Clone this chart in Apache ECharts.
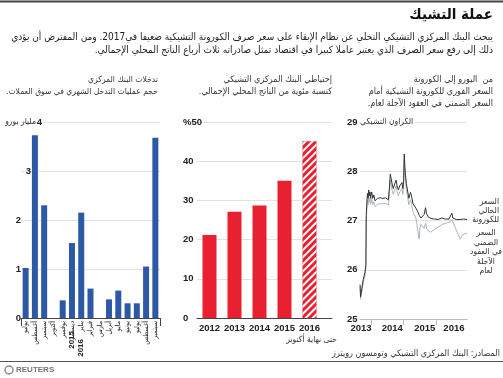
<!DOCTYPE html>
<html><head><meta charset="utf-8">
<script src="https://cdn.jsdelivr.net/npm/echarts@6/dist/echarts.min.js"></script>
<style>html,body{margin:0;padding:0;background:#fff}#c{width:503px;height:378px}</style>
</head><body><div id="c" dir="rtl"></div>
<script>
// ---- data ----
const months = ['يوليو','أغسطس','سبتمبر','أكتوبر','نوفمبر','ديسمبر','يناير','فبراير','مارس','أبريل','مايو','يونيو','يوليو','أغسطس','سبتمبر'];
const interventions = [1.02,3.73,2.30,0,0.36,1.53,2.15,0.60,0,0.38,0.56,0.30,0.30,1.05,3.68];
const reserveYears = [2012,2013,2014,2015,2016];
const reserves = [21.2,27.1,28.7,35.0,45.1];
const lineYearLabels = ['2013-09-10','2014-08-28','2015-08-28','2016-07-20'];
const lineYearTicks = ['2014-01-01','2015-01-01','2016-01-01'];
const spotRate = [
['2013-08-31',25.70],['2013-09-05',25.45],['2013-09-20',25.62],['2013-10-05',25.80],['2013-10-25',25.95],['2013-11-04',26.10],
['2013-11-08',27.10],['2013-11-15',27.35],['2013-11-22',27.55],['2013-11-29',27.45],['2013-12-06',27.62],['2013-12-13',27.50],
['2013-12-20',27.58],['2013-12-27',27.45],['2014-01-08',27.58],['2014-01-20',27.45],['2014-02-01',27.52],['2014-02-15',27.40],
['2014-03-01',27.38],['2014-03-15',27.45],['2014-04-01',27.42],['2014-04-15',27.46],['2014-05-01',27.43],['2014-05-15',27.45],
['2014-06-01',27.42],['2014-06-15',27.46],['2014-07-01',27.44],['2014-07-15',27.42],['2014-07-28',27.70],['2014-08-05',27.94],
['2014-08-15',27.85],['2014-08-28',27.72],['2014-09-08',27.65],['2014-09-25',27.75],['2014-10-10',27.82],['2014-10-20',27.70],
['2014-11-05',27.62],['2014-11-18',27.70],['2014-12-05',27.68],['2014-12-15',27.77],['2014-12-24',27.65],['2015-01-02',27.80],
['2015-01-09',28.35],['2015-01-16',28.10],['2015-01-23',27.92],['2015-02-02',27.75],['2015-02-12',27.78],['2015-03-02',27.45],
['2015-03-20',27.57],['2015-04-01',27.50],['2015-04-15',27.35],['2015-05-01',27.38],['2015-05-20',27.25],['2015-06-10',27.18],
['2015-06-28',27.10],['2015-07-15',27.05],['2015-08-05',27.08],['2015-08-20',27.12],['2015-09-05',27.26],['2015-09-15',27.15],
['2015-10-01',27.08],['2015-10-20',27.05],['2015-11-05',27.04],['2015-11-25',27.03],['2015-12-15',27.03],['2016-01-05',27.04],
['2016-01-25',27.02],['2016-02-15',27.04],['2016-03-05',27.05],['2016-03-25',27.04],['2016-04-15',27.03],['2016-05-05',27.04],
['2016-05-25',27.03],['2016-06-15',27.06],['2016-06-27',27.15],['2016-07-08',27.05],['2016-07-25',27.03],['2016-08-15',27.02],
['2016-09-05',27.03],['2016-09-25',27.02],['2016-10-15',27.02],['2016-11-05',27.03],['2016-11-25',27.02],['2016-12-14',27.02]
];
const forwardRate = [
['2013-08-31',25.65],['2013-09-05',25.40],['2013-09-20',25.57],['2013-10-05',25.74],['2013-10-25',25.88],['2013-11-04',26.02],
['2013-11-08',27.00],['2013-11-15',27.25],['2013-11-22',27.42],['2013-11-29',27.32],['2013-12-06',27.48],['2013-12-13',27.37],
['2013-12-20',27.45],['2013-12-27',27.33],['2014-01-08',27.45],['2014-01-20',27.32],['2014-02-01',27.38],['2014-02-15',27.28],
['2014-03-01',27.27],['2014-03-15',27.33],['2014-04-01',27.30],['2014-04-15',27.34],['2014-05-01',27.31],['2014-05-15',27.34],
['2014-06-01',27.31],['2014-06-15',27.35],['2014-07-01',27.33],['2014-07-15',27.31],['2014-07-28',27.58],['2014-08-05',27.82],
['2014-08-15',27.73],['2014-08-28',27.60],['2014-09-08',27.53],['2014-09-25',27.63],['2014-10-10',27.70],['2014-10-20',27.58],
['2014-11-05',27.50],['2014-11-18',27.58],['2014-12-05',27.56],['2014-12-15',27.65],['2014-12-24',27.53],['2015-01-02',27.68],
['2015-01-09',28.22],['2015-01-16',27.98],['2015-01-23',27.80],['2015-02-02',27.63],['2015-02-12',27.65],['2015-03-02',27.32],
['2015-03-20',27.42],['2015-04-01',27.35],['2015-04-15',27.18],['2015-05-01',27.20],['2015-05-20',27.05],['2015-06-10',26.80],
['2015-06-25',26.62],['2015-07-05',26.85],['2015-07-15',26.92],['2015-08-05',26.88],['2015-08-20',26.84],['2015-09-05',26.95],
['2015-09-20',26.82],['2015-10-10',26.78],['2015-10-30',26.76],['2015-11-20',26.78],['2015-12-15',26.82],['2016-01-10',26.85],
['2016-02-05',26.88],['2016-03-10',26.92],['2016-04-10',26.94],['2016-05-10',26.96],['2016-06-10',26.97],['2016-06-27',27.02],
['2016-07-10',26.99],['2016-08-05',26.85],['2016-08-28',26.75],['2016-10-01',26.62],['2016-10-20',26.70],['2016-11-10',26.74],
['2016-12-14',26.75]
];
// ---- text ----
const titleText = 'عملة التشيك';
const subtitleText = 'يبحث البنك المركزي التشيكي التخلي عن نظام الإبقاء على سعر صرف الكورونة التشيكية ضعيفا في2017. ومن المفترض أن يؤدي\nذلك إلى رفع سعر الصرف الذي يعتبر عاملا كبيرا في اقتصاد تمثل صادراته ثلاث أرباع الناتج المحلي الإجمالي.';
const headLeft = 'تدخلات البنك المركزي\nحجم عمليات التدخل الشهري في سوق العملات.';
const headMid = 'إحتياطي البنك المركزي التشيكي\nكنسبة مئوية من الناتج المحلي الإجمالي.';
const headRight = 'من  اليورو إلى الكورونة\nالسعر الفوري للكورونة التشيكية أمام\nالسعر الضمني في العقود الآجلة لعام.';
const sourceText = 'المصادر: البنك المركزي التشيكي وتومسون رويترز';

const AR = "'DejaVu Sans Condensed','DejaVu Sans', sans-serif";
const LAT = "'Liberation Sans', Arial, sans-serif";
const ts = d => +new Date(d + 'T00:00:00');
const chart = echarts.init(document.getElementById('c'));
const grid = {color:'#e2e2e2'};
const T = (text, x, y, opt) => ({type:'text', silent:true, style:Object.assign({text, x, y, fill:'#222', font:'10px '+AR, align:'right', verticalAlign:'middle'}, opt||{})});
const tick = {fontWeight:'bold', fontSize:9.5, color:'#222'};

const option = {
  animation:false,
  textStyle:{fontFamily:LAT},
  grid:[
    {left:21, right:343, top:122, bottom:60},
    {left:197, right:171, top:122, bottom:60},
    {left:360, right:36, top:122, bottom:59}
  ],
  xAxis:[
    {gridIndex:0, type:'category', data:months,
     axisLine:{lineStyle:{color:'#444'}},
     axisTick:{show:true, length:8, interval:(i)=>i===6, lineStyle:{color:'#444'}},
     axisLabel:{rotate:90, fontSize:7, margin:3, color:'#222', fontFamily:AR, interval:0}},
    {gridIndex:1, type:'value', min:2011.5, max:2016.9, splitLine:{show:false},
     axisLine:{lineStyle:{color:'#444'}}, axisTick:{show:false},
     axisLabel:Object.assign({customValues:reserveYears, formatter:v=>String(v), margin:5}, tick)},
    {gridIndex:2, type:'value', min:ts('2013-08-30'), max:ts('2016-12-14'), splitLine:{show:false},
     axisLine:{lineStyle:{color:'#bbb'}},
     axisTick:{show:true, customValues:lineYearTicks.map(ts), length:6, lineStyle:{color:'#bbb'}},
     axisLabel:Object.assign({customValues:lineYearLabels.map(ts), formatter:v=>String(new Date(v).getFullYear()), margin:4}, tick)}
  ],
  yAxis:[
    {gridIndex:0, type:'value', min:0, max:4, interval:1, splitLine:{lineStyle:grid},
     axisLine:{show:false}, axisTick:{show:false},
     axisLabel:Object.assign({margin:0, formatter:v=>v>=3?'':String(v)}, tick)},
    {gridIndex:1, type:'value', min:0, max:50, interval:10, splitLine:{lineStyle:grid},
     axisLine:{show:false}, axisTick:{show:false},
     axisLabel:Object.assign({align:'left', margin:14, formatter:v=>v===50?'%50':String(v)}, tick)},
    {gridIndex:2, type:'value', min:25, max:29, interval:1, splitLine:{lineStyle:grid},
     axisLine:{show:false}, axisTick:{show:false},
     axisLabel:Object.assign({align:'left', margin:13}, tick)}
  ],
  series:[
    {type:'bar', xAxisIndex:0, yAxisIndex:0, data:interventions, barWidth:6, itemStyle:{color:'#2d58a6'}},
    {type:'bar', xAxisIndex:1, yAxisIndex:1, barWidth:14,
     data:reserveYears.map((y,i)=> i===4 ? {value:[y,reserves[i]], itemStyle:{color:'#e8202f', decal:{symbol:'rect', color:'#ffffff', dashArrayX:[1,0], dashArrayY:[2,3], rotation:-Math.PI/4}}} : [y,reserves[i]]),
     itemStyle:{color:'#e8202f'}},
    {type:'line', xAxisIndex:2, yAxisIndex:2, data:forwardRate.map(p=>[ts(p[0]),p[1]]), showSymbol:false, lineStyle:{color:'#a9b5c1', width:1}, itemStyle:{color:'#a9b5c1'}},
    {type:'line', xAxisIndex:2, yAxisIndex:2, data:spotRate.map(p=>[ts(p[0]),p[1]]), showSymbol:false, lineStyle:{color:'#333', width:1}, itemStyle:{color:'#333'}}
  ]
};
chart.setOption(option);

const cx6 = chart.convertToPixel({xAxisIndex:0}, 5);
const cx7 = chart.convertToPixel({xAxisIndex:0}, 6);
const y3 = chart.convertToPixel({yAxisIndex:0}, 3);
const y4 = chart.convertToPixel({yAxisIndex:0}, 4);
const numFont = 'bold 9.5px ' + LAT;
chart.setOption({graphic:[
  {type:'line', silent:true, shape:{x1:0,y1:1.5,x2:503,y2:1.5}, style:{stroke:'#444', lineWidth:2}},
  T(titleText, 493, 15, {font:'bold 15px '+AR, fill:'#111'}),
  T(subtitleText, 493, 44, {font:'10px '+AR, lineHeight:12.5}),
  T(headLeft, 158, 86, {font:'8.5px '+AR, lineHeight:12, fill:'#333'}),
  T(headMid, 332, 86, {font:'9px '+AR, lineHeight:12, fill:'#333'}),
  T(headRight, 493, 92, {font:'9px '+AR, lineHeight:12, fill:'#333'}),
  T('3', 31, y3, {font:numFont}),
  T('4', 42, y4, {font:numFont}),
  T('مليار يورو', 36, y4, {font:'8.5px '+AR, fill:'#333'}),
  T('الكراون التشيكي', 358, 122, {font:'8.5px '+AR, fill:'#333', align:'left', backgroundColor:'#fff', padding:[0,2]}),
  T('السعر\nالحالي\nللكورونة', 499, 211, {font:'8.5px '+AR, lineHeight:9, fill:'#333'}),
  T('السعر\nالضمني\nفي العقود\nالآجلة\nلعام', 486, 252, {font:'8.5px '+AR, lineHeight:9.5, fill:'#333', align:'center'}),
  T('حتى نهاية أكتوبر', 337, 340, {font:'8.5px '+AR, fill:'#333'}),
  {type:'text', silent:true, x:cx6, y:331, rotation:Math.PI/2, style:{text:'2015', font:'bold 8px '+LAT, fill:'#222', align:'right', verticalAlign:'middle'}},
  {type:'text', silent:true, x:cx7, y:339, rotation:Math.PI/2, style:{text:'2016', font:'bold 8px '+LAT, fill:'#222', align:'right', verticalAlign:'middle'}},
  T(sourceText, 500, 354, {font:'9px '+AR, fill:'#333'}),
  {type:'line', silent:true, shape:{x1:0,y1:361.5,x2:503,y2:361.5}, style:{stroke:'#555', lineWidth:1}},
  {type:'circle', silent:true, shape:{cx:9, cy:370, r:4}, style:{fill:'none', stroke:'#888', lineWidth:1.5}},
  {type:'text', silent:true, style:{text:'REUTERS', x:16, y:370, font:'bold 8px '+LAT, fill:'#777', align:'left', verticalAlign:'middle'}}
]});
</script></body></html>
